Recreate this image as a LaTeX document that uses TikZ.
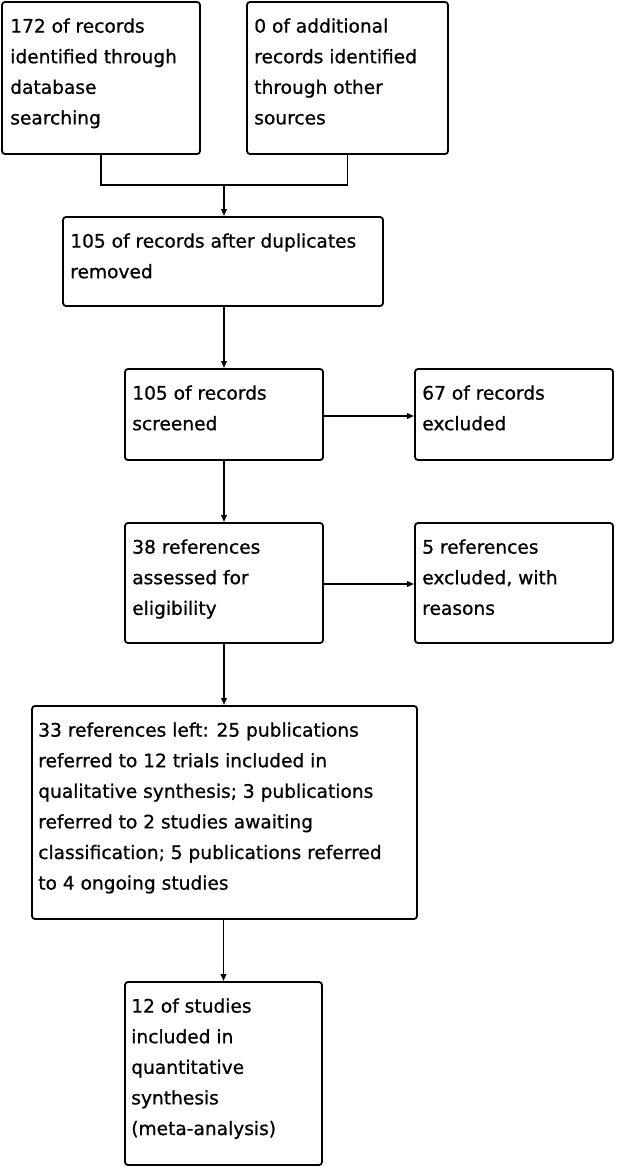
\documentclass[tikz,border=0pt]{standalone}
\usepackage{fontspec}
\setmainfont{DejaVu Sans}
\newfontfamily\diafont{DejaVu Sans}[FakeBold=0.8]
\usetikzlibrary{arrows.meta,calc}
\tikzset{
  box/.style={draw=black, line width=1.8pt, rounded corners=3pt, inner sep=0pt, fill=white},
  txt/.style={anchor=base west, inner sep=0pt, font={\diafont\fontsize{18.6}{30.6}\selectfont}},
  conn/.style={draw=black, line width=1.8pt},
  arr/.style={conn, -{Triangle[length=7pt,width=5.5pt]}}
}
\newcommand{\tb}[1]{\parbox[t]{400pt}{\raggedright #1}}
\begin{document}
\begin{tikzpicture}[x=1pt,y=-1pt]
\useasboundingbox[fill=white] (0,0) rectangle (616,1167);
% boxes
\node[box, minimum width=198pt, minimum height=152pt] (b1) at (101,78) {};
\node[box, minimum width=201pt, minimum height=152pt] (b2) at (347.5,78) {};
\node[box, minimum width=320pt, minimum height=89pt] (b3) at (223,261.5) {};
\node[box, minimum width=198pt, minimum height=91pt] (b4) at (224,414.5) {};
\node[box, minimum width=198pt, minimum height=91pt] (b5) at (514,414.5) {};
\node[box, minimum width=198pt, minimum height=120pt] (b6) at (224,583) {};
\node[box, minimum width=198pt, minimum height=120pt] (b7) at (514,583) {};
\node[box, minimum width=385pt, minimum height=213pt] (b8) at (224.5,812.5) {};
\node[box, minimum width=197pt, minimum height=183pt] (b9) at (223.5,1073.5) {};
% texts
\node[txt] (t1) at ($(b1.north west)+(9,31.5)$) {\tb{172 of records\\identified through\\database\\searching}};
\node[txt] (t2) at ($(b2.north west)+(8,31.5)$) {\tb{0 of additional\\records identified\\through other\\sources}};
\node[txt] (t3) at ($(b3.north west)+(8,31.5)$) {\tb{105 of records after duplicates\\removed}};
\node[txt] (t4) at ($(b4.north west)+(8,31.5)$) {\tb{105 of records\\screened}};
\node[txt] (t5) at ($(b5.north west)+(8,31.5)$) {\tb{67 of records\\excluded}};
\node[txt] (t6) at ($(b6.north west)+(8,31.5)$) {\tb{38 references\\assessed for\\eligibility}};
\node[txt] (t7) at ($(b7.north west)+(8,31.5)$) {\tb{5 references\\excluded, with\\reasons}};
\node[txt] (t8) at ($(b8.north west)+(7,31.5)$) {\tb{33 references left: 25 publications\\referred to 12 trials included in\\qualitative synthesis; 3 publications\\referred to 2 studies awaiting\\classification; 5 publications referred\\to 4 ongoing studies}};
\node[txt] (t9) at ($(b9.north west)+(7,31.5)$) {\tb{12 of studies\\included in\\quantitative\\synthesis\\(meta-analysis)}};
% connectors
\coordinate (m) at (224,185);
\coordinate (e1) at (323,416);
\coordinate (e2) at (323,584);
\draw[conn] (b1.south) |- (m) -| (b2.south);
\draw[arr] (m) -- (b3.north -| m);
\draw[arr] (b3.south -| b4.north) -- (b4.north);
\draw[arr] (e1) -- (e1 -| b5.west);
\draw[arr] (b4.south) -- (b6.north);
\draw[arr] (e2) -- (e2 -| b7.west);
\draw[arr] (b6.south) -- (b8.north -| b6.south);
\draw[arr] (b8.south -| b9.north) -- (b9.north);
\end{tikzpicture}
\end{document}
